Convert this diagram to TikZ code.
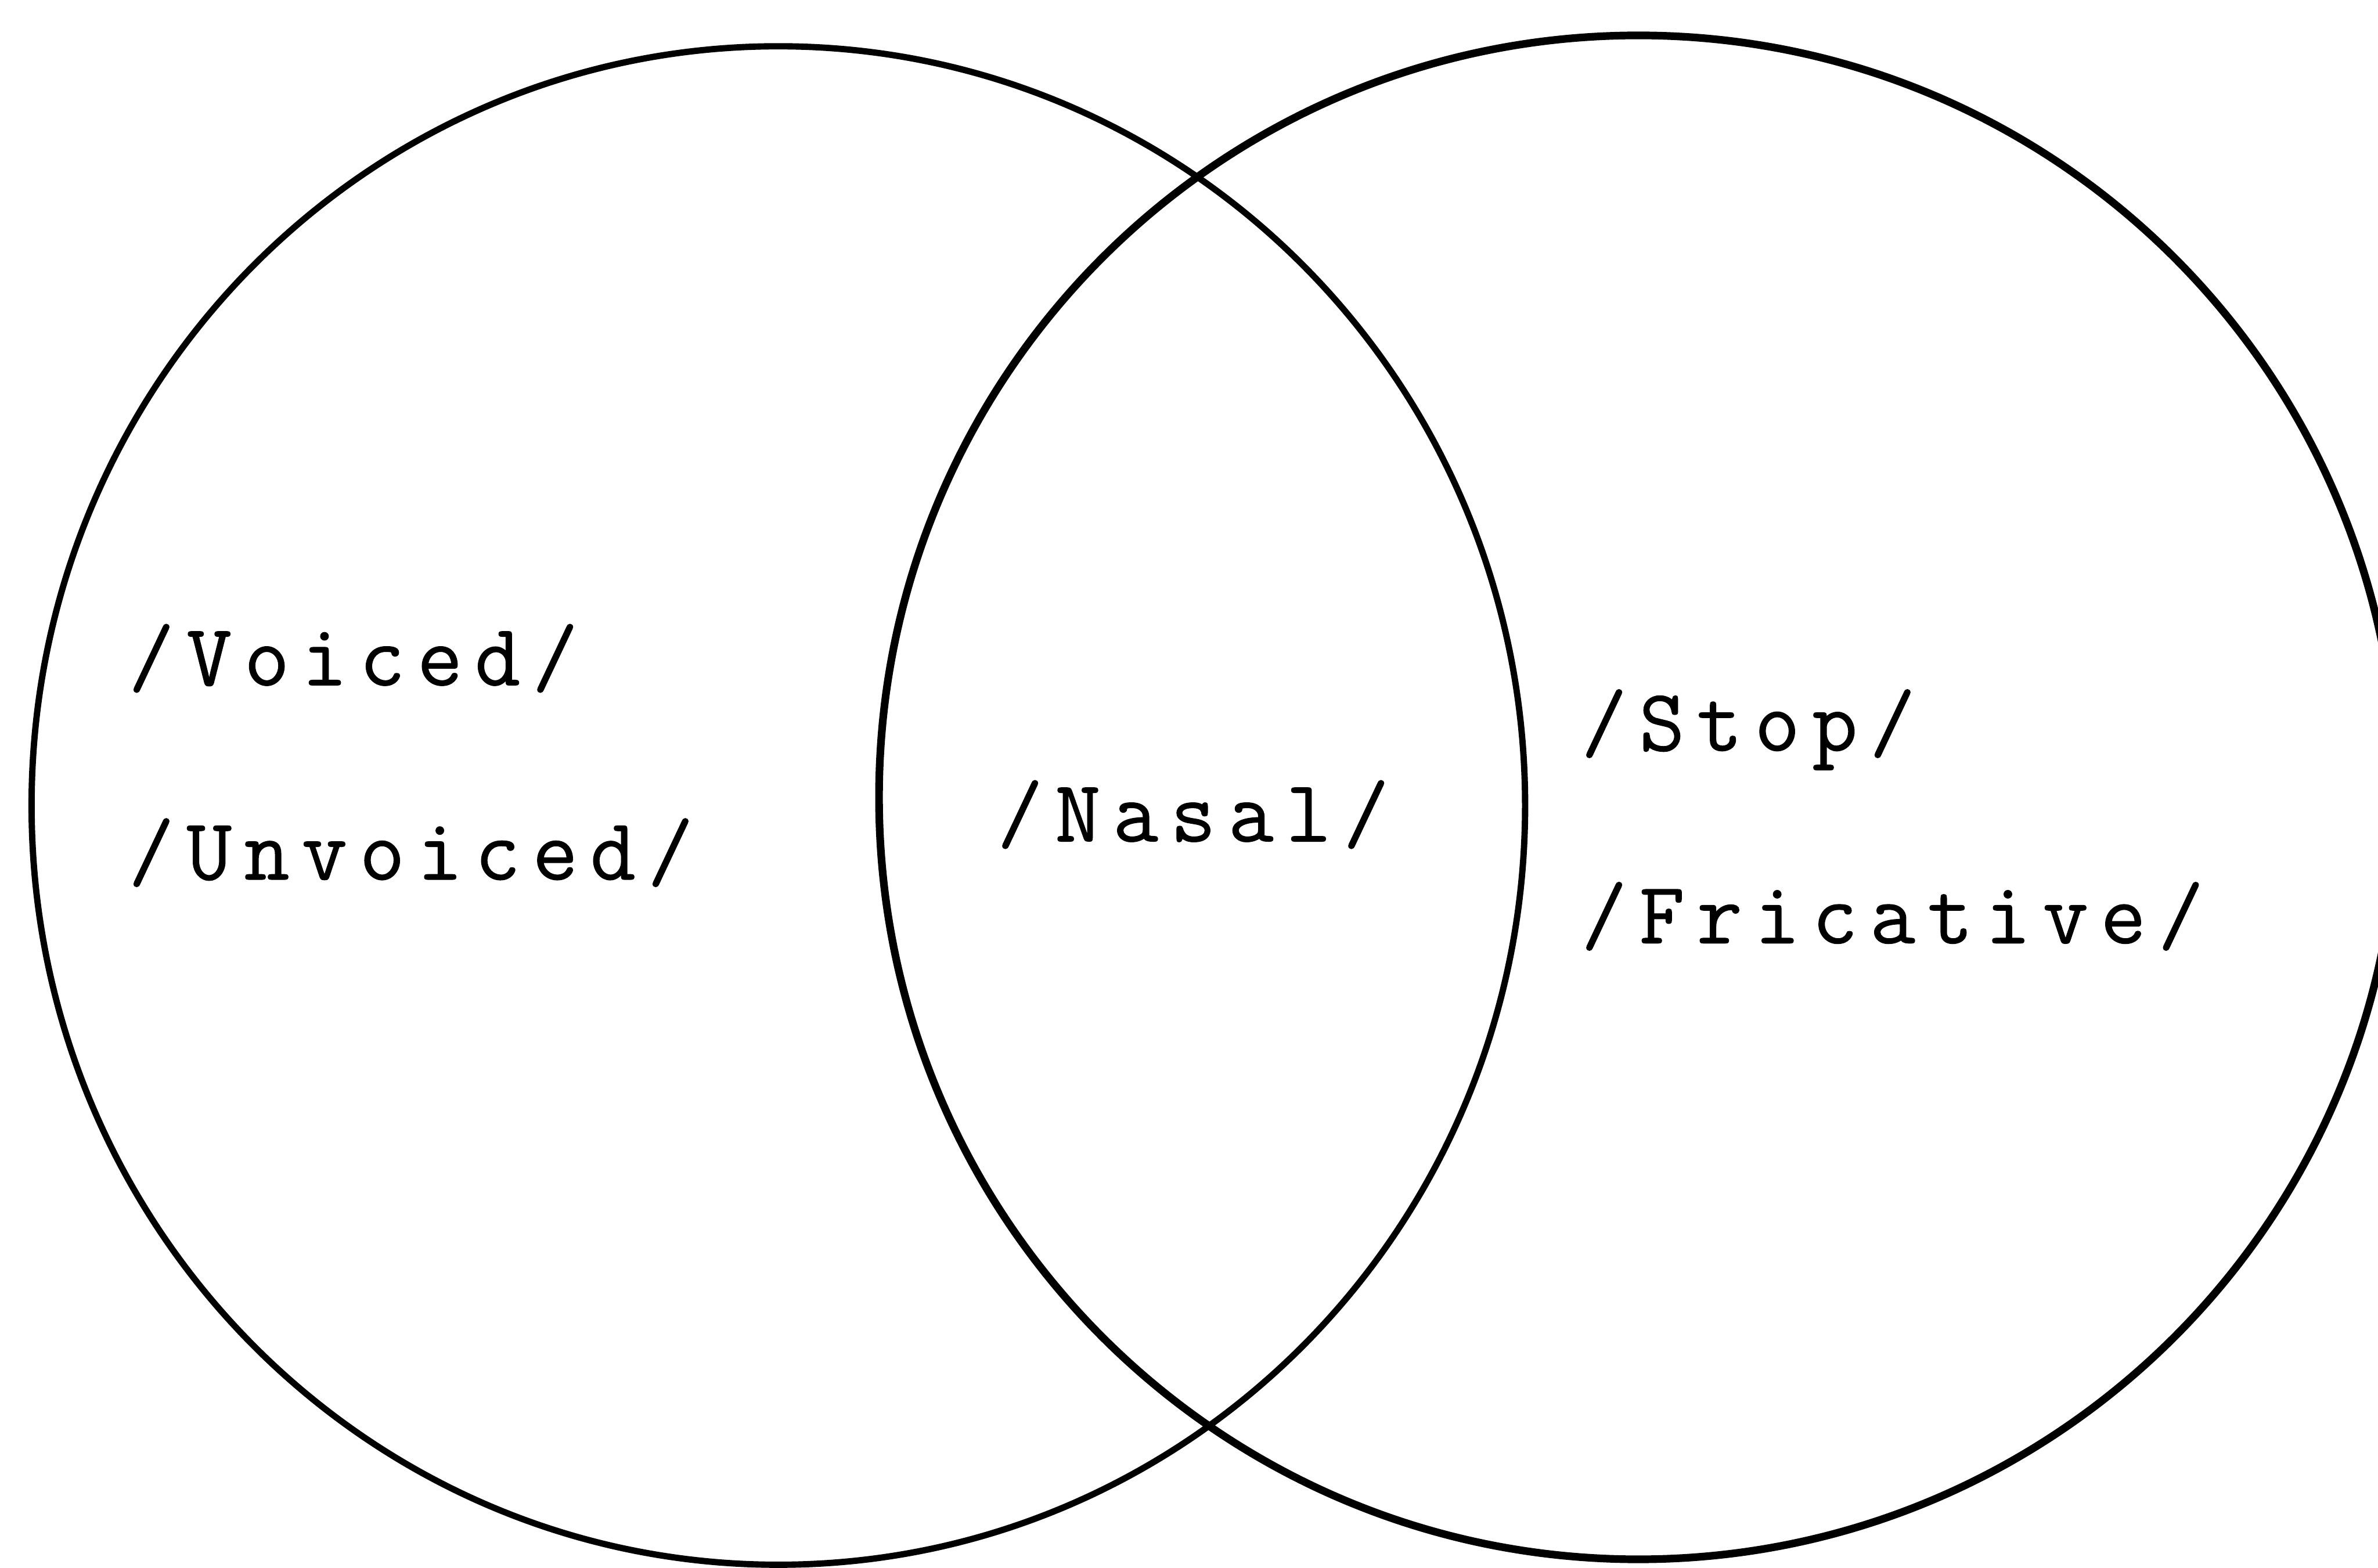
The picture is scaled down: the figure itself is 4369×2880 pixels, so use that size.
\documentclass[tikz,border=0pt]{standalone}
\usepackage{fontspec}
\newfontfamily\typewriter{Latin Modern Mono}[LetterSpace=14,FakeBold=0.8]
\begin{document}
\begin{tikzpicture}[x=0.01cm,y=-0.01cm,
  setring/.style={draw=black,line width=#1},
  setlabel/.style={anchor=base west,inner sep=0pt,
    font=\typewriter\fontsize{46}{54}\selectfont}]
  \useasboundingbox (0,0) rectangle (4369,2880);
  \clip (0,0) rectangle (4369,2880);
  % two overlapping sets
  \draw[setring=3.3pt] (1430,1480) ellipse [x radius=1372, y radius=1395];
  \draw[setring=4pt] (3010,1465) ellipse [x radius=1395, y radius=1400];
  % labels
  \node[setlabel] (voiced)    at (236,1259) {/Voiced/};
  \node[setlabel] (unvoiced)  at (236,1616) {/Unvoiced/};
  \node[setlabel] (nasal)     at (1832,1546) {/Nasal/};
  \node[setlabel] (stop)      at (2905,1379) {/Stop/};
  \node[setlabel] (fricative) at (2905,1733) {/Fricative/};
\end{tikzpicture}
\end{document}
